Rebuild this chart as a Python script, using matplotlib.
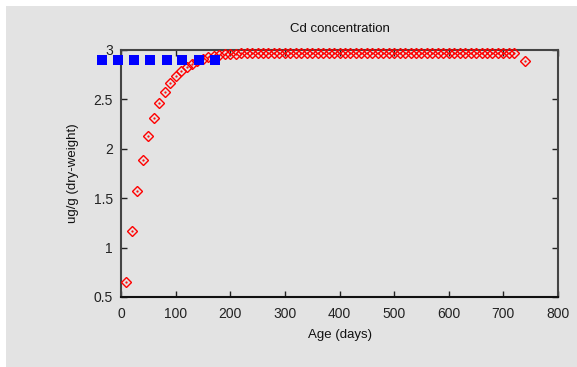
import numpy as np
import matplotlib
matplotlib.use("Agg")
import matplotlib.pyplot as plt
from matplotlib.patches import Rectangle

plt.rcParams['font.family'] = ['Liberation Sans', 'DejaVu Sans']

# modelled Cd concentration (red diamonds)
age_days = [10, 20, 30, 40, 50, 60, 70, 80, 90, 100,
            110, 120, 130, 140, 150, 160, 170, 180, 190, 200,
            210, 220, 230, 240, 250, 260, 270, 280, 290, 300,
            310, 320, 330, 340, 350, 360, 370, 380, 390, 400,
            410, 420, 430, 440, 450, 460, 470, 480, 490, 500,
            510, 520, 530, 540, 550, 560, 570, 580, 590, 600,
            610, 620, 630, 640, 650, 660, 670, 680, 690, 700,
            710, 720, 740]
cd_conc = [0.655, 1.168, 1.57, 1.883, 2.126, 2.315, 2.46, 2.578, 2.663, 2.737,
           2.785, 2.825, 2.86, 2.885, 2.91, 2.925, 2.94, 2.95, 2.955, 2.96,
           2.963, 2.965, 2.966, 2.966, 2.966, 2.966, 2.966, 2.966, 2.966, 2.966,
           2.966, 2.966, 2.966, 2.966, 2.966, 2.966, 2.966, 2.966, 2.966, 2.966,
           2.966, 2.966, 2.966, 2.966, 2.966, 2.966, 2.966, 2.966, 2.966, 2.966,
           2.966, 2.966, 2.966, 2.966, 2.966, 2.966, 2.966, 2.966, 2.966, 2.966,
           2.966, 2.966, 2.966, 2.966, 2.966, 2.966, 2.966, 2.966, 2.966, 2.966,
           2.966, 2.966, 2.89]

# observed level (blue squares)
obs_days = [-34, -5, 24, 54, 84, 112, 142, 172]
obs_conc = [2.9, 2.9, 2.9, 2.9, 2.9, 2.9, 2.9, 2.9]

bg = '#e3e3e3'
fig = plt.figure(figsize=(5.77, 3.67), dpi=100)
fig.patch.set_facecolor('white')
fig.patches.append(Rectangle((6 / 577, 0), 1, 1 - 6 / 367, transform=fig.transFigure,
                             facecolor=bg, edgecolor='none', zorder=-10))

ax = fig.add_axes([121 / 577, 1 - 297 / 367, (558 - 121) / 577, (297 - 50) / 367])
ax.set_facecolor(bg)

ax.plot(age_days, cd_conc, linestyle='none', marker='D', markersize=5.5,
        markerfacecolor='none', markeredgecolor='red', markeredgewidth=1.0,
        clip_on=False, zorder=3)
ax.plot(age_days, cd_conc, linestyle='none', marker='.', markersize=1.2,
        color='red', clip_on=False, zorder=3)
ax.plot(obs_days, obs_conc, linestyle='none', marker='s', markersize=7.5,
        color='#0000ff', markeredgewidth=0, clip_on=False, zorder=4)

ax.set_xlim(0, 800)
ax.set_ylim(0.5, 3)
ax.set_xticks([0, 100, 200, 300, 400, 500, 600, 700, 800])
ax.set_yticks([0.5, 1, 1.5, 2, 2.5, 3])
ax.set_yticklabels(['0.5', '1', '1.5', '2', '2.5', '3'])
ax.tick_params(direction='in', length=4, width=1, top=True, right=True,
               labelsize=10, colors='#222222')
ax.tick_params(axis='x', pad=7)
ax.tick_params(axis='y', pad=6)
for s in ax.spines.values():
    s.set_linewidth(1.5)
    s.set_color('#444444')
ax.spines['bottom'].set_color('#111111')

ax.set_title('Cd concentration', fontsize=9.5, pad=13, color='#111111')
ax.set_xlabel('Age (days)', fontsize=9.5, labelpad=6, color='#111111')
ax.set_ylabel('ug/g (dry-weight)', fontsize=9.5, labelpad=10, color='#111111')

fig.savefig('out.png', dpi=100, facecolor=fig.get_facecolor())
